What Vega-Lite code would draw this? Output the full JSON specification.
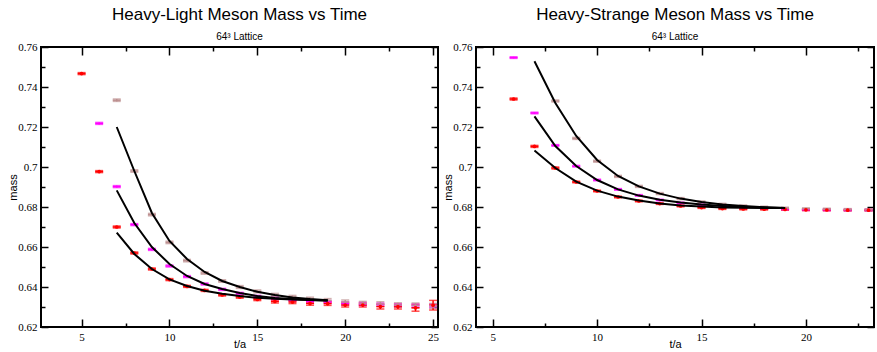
{
  "$schema": "https://vega.github.io/schema/vega-lite/v6.json",
  "padding": {"left": 6, "top": 5, "right": 0, "bottom": 0},
  "background": "white",
  "datasets": {
    "hl_points": [
      {"t": 5, "series": "S1", "m": 0.7467, "err": 0.0005},
      {"t": 6, "series": "S1", "m": 0.6977, "err": 0.0005},
      {"t": 7, "series": "S1", "m": 0.6700, "err": 0.0005},
      {"t": 8, "series": "S1", "m": 0.6570, "err": 0.0005},
      {"t": 9, "series": "S1", "m": 0.6490, "err": 0.0005},
      {"t": 10, "series": "S1", "m": 0.6437, "err": 0.0005},
      {"t": 11, "series": "S1", "m": 0.6403, "err": 0.0005},
      {"t": 12, "series": "S1", "m": 0.6383, "err": 0.0005},
      {"t": 13, "series": "S1", "m": 0.6360, "err": 0.0005},
      {"t": 14, "series": "S1", "m": 0.6350, "err": 0.0006},
      {"t": 15, "series": "S1", "m": 0.6338, "err": 0.0006},
      {"t": 16, "series": "S1", "m": 0.6328, "err": 0.0008},
      {"t": 17, "series": "S1", "m": 0.6325, "err": 0.0008},
      {"t": 18, "series": "S1", "m": 0.6318, "err": 0.0009},
      {"t": 19, "series": "S1", "m": 0.6317, "err": 0.0009},
      {"t": 20, "series": "S1", "m": 0.6310, "err": 0.0010},
      {"t": 21, "series": "S1", "m": 0.6310, "err": 0.0010},
      {"t": 22, "series": "S1", "m": 0.6302, "err": 0.0012},
      {"t": 23, "series": "S1", "m": 0.6302, "err": 0.0012},
      {"t": 24, "series": "S1", "m": 0.6296, "err": 0.0017},
      {"t": 25, "series": "S1", "m": 0.6309, "err": 0.0024},
      {"t": 6, "series": "S2", "m": 0.7218, "err": 0.0005},
      {"t": 7, "series": "S2", "m": 0.6902, "err": 0.0005},
      {"t": 8, "series": "S2", "m": 0.6712, "err": 0.0005},
      {"t": 9, "series": "S2", "m": 0.6588, "err": 0.0005},
      {"t": 10, "series": "S2", "m": 0.6505, "err": 0.0005},
      {"t": 11, "series": "S2", "m": 0.6452, "err": 0.0005},
      {"t": 12, "series": "S2", "m": 0.6415, "err": 0.0005},
      {"t": 13, "series": "S2", "m": 0.6388, "err": 0.0005},
      {"t": 14, "series": "S2", "m": 0.6368, "err": 0.0005},
      {"t": 15, "series": "S2", "m": 0.6352, "err": 0.0006},
      {"t": 16, "series": "S2", "m": 0.6342, "err": 0.0006},
      {"t": 17, "series": "S2", "m": 0.6335, "err": 0.0006},
      {"t": 18, "series": "S2", "m": 0.6328, "err": 0.0007},
      {"t": 19, "series": "S2", "m": 0.6325, "err": 0.0007},
      {"t": 20, "series": "S2", "m": 0.6318, "err": 0.0008},
      {"t": 21, "series": "S2", "m": 0.6315, "err": 0.0008},
      {"t": 22, "series": "S2", "m": 0.6312, "err": 0.0008},
      {"t": 23, "series": "S2", "m": 0.6308, "err": 0.0008},
      {"t": 24, "series": "S2", "m": 0.6307, "err": 0.0008},
      {"t": 25, "series": "S2", "m": 0.6306, "err": 0.0009},
      {"t": 7, "series": "S3", "m": 0.7334, "err": 0.0006},
      {"t": 8, "series": "S3", "m": 0.6980, "err": 0.0006},
      {"t": 9, "series": "S3", "m": 0.6762, "err": 0.0006},
      {"t": 10, "series": "S3", "m": 0.6623, "err": 0.0006},
      {"t": 11, "series": "S3", "m": 0.6532, "err": 0.0006},
      {"t": 12, "series": "S3", "m": 0.6470, "err": 0.0006},
      {"t": 13, "series": "S3", "m": 0.6430, "err": 0.0006},
      {"t": 14, "series": "S3", "m": 0.6400, "err": 0.0007},
      {"t": 15, "series": "S3", "m": 0.6378, "err": 0.0007},
      {"t": 16, "series": "S3", "m": 0.6360, "err": 0.0008},
      {"t": 17, "series": "S3", "m": 0.6350, "err": 0.0008},
      {"t": 18, "series": "S3", "m": 0.6340, "err": 0.0009},
      {"t": 19, "series": "S3", "m": 0.6333, "err": 0.0009},
      {"t": 20, "series": "S3", "m": 0.6325, "err": 0.0010},
      {"t": 21, "series": "S3", "m": 0.6318, "err": 0.0010},
      {"t": 22, "series": "S3", "m": 0.6315, "err": 0.0011},
      {"t": 23, "series": "S3", "m": 0.6310, "err": 0.0011},
      {"t": 24, "series": "S3", "m": 0.6308, "err": 0.0012},
      {"t": 25, "series": "S3", "m": 0.6306, "err": 0.0012}
    ],
    "hl_fits": [
      {"t": 7, "series": "S1", "m": 0.6672}, {"t": 8, "series": "S1", "m": 0.6565}, {"t": 9, "series": "S1", "m": 0.6490},
      {"t": 10, "series": "S1", "m": 0.6438}, {"t": 11, "series": "S1", "m": 0.6405}, {"t": 12, "series": "S1", "m": 0.6381},
      {"t": 13, "series": "S1", "m": 0.6366}, {"t": 14, "series": "S1", "m": 0.6355}, {"t": 15, "series": "S1", "m": 0.6346},
      {"t": 16, "series": "S1", "m": 0.6341}, {"t": 17, "series": "S1", "m": 0.6337}, {"t": 18, "series": "S1", "m": 0.6335},
      {"t": 19, "series": "S1", "m": 0.6333},
      {"t": 7, "series": "S2", "m": 0.6883}, {"t": 8, "series": "S2", "m": 0.6720}, {"t": 9, "series": "S2", "m": 0.6600},
      {"t": 10, "series": "S2", "m": 0.6515}, {"t": 11, "series": "S2", "m": 0.6455}, {"t": 12, "series": "S2", "m": 0.6415},
      {"t": 13, "series": "S2", "m": 0.6390}, {"t": 14, "series": "S2", "m": 0.6370}, {"t": 15, "series": "S2", "m": 0.6355},
      {"t": 16, "series": "S2", "m": 0.6345}, {"t": 17, "series": "S2", "m": 0.6340}, {"t": 18, "series": "S2", "m": 0.6335},
      {"t": 19, "series": "S2", "m": 0.6333},
      {"t": 7, "series": "S3", "m": 0.7200}, {"t": 8, "series": "S3", "m": 0.6980}, {"t": 9, "series": "S3", "m": 0.6770},
      {"t": 10, "series": "S3", "m": 0.6630}, {"t": 11, "series": "S3", "m": 0.6540}, {"t": 12, "series": "S3", "m": 0.6475},
      {"t": 13, "series": "S3", "m": 0.6430}, {"t": 14, "series": "S3", "m": 0.6400}, {"t": 15, "series": "S3", "m": 0.6376},
      {"t": 16, "series": "S3", "m": 0.6360}, {"t": 17, "series": "S3", "m": 0.6348}, {"t": 18, "series": "S3", "m": 0.6340},
      {"t": 19, "series": "S3", "m": 0.6334}
    ],
    "hs_points": [
      {"t": 6, "series": "S1", "m": 0.7340, "err": 0.0005},
      {"t": 7, "series": "S1", "m": 0.7103, "err": 0.0005},
      {"t": 8, "series": "S1", "m": 0.6995, "err": 0.0005},
      {"t": 9, "series": "S1", "m": 0.6925, "err": 0.0004},
      {"t": 10, "series": "S1", "m": 0.6880, "err": 0.0004},
      {"t": 11, "series": "S1", "m": 0.6850, "err": 0.0004},
      {"t": 12, "series": "S1", "m": 0.6830, "err": 0.0004},
      {"t": 13, "series": "S1", "m": 0.6817, "err": 0.0004},
      {"t": 14, "series": "S1", "m": 0.6805, "err": 0.0004},
      {"t": 15, "series": "S1", "m": 0.6797, "err": 0.0004},
      {"t": 16, "series": "S1", "m": 0.6792, "err": 0.0004},
      {"t": 17, "series": "S1", "m": 0.6790, "err": 0.0004},
      {"t": 18, "series": "S1", "m": 0.6789, "err": 0.0004},
      {"t": 19, "series": "S1", "m": 0.6788, "err": 0.0004},
      {"t": 20, "series": "S1", "m": 0.6786, "err": 0.0004},
      {"t": 21, "series": "S1", "m": 0.6785, "err": 0.0004},
      {"t": 22, "series": "S1", "m": 0.6784, "err": 0.0004},
      {"t": 23, "series": "S1", "m": 0.6784, "err": 0.0004},
      {"t": 6, "series": "S2", "m": 0.7547, "err": 0.0004},
      {"t": 7, "series": "S2", "m": 0.7270, "err": 0.0004},
      {"t": 8, "series": "S2", "m": 0.7108, "err": 0.0004},
      {"t": 9, "series": "S2", "m": 0.7004, "err": 0.0004},
      {"t": 10, "series": "S2", "m": 0.6935, "err": 0.0004},
      {"t": 11, "series": "S2", "m": 0.6888, "err": 0.0004},
      {"t": 12, "series": "S2", "m": 0.6858, "err": 0.0004},
      {"t": 13, "series": "S2", "m": 0.6835, "err": 0.0004},
      {"t": 14, "series": "S2", "m": 0.6820, "err": 0.0004},
      {"t": 15, "series": "S2", "m": 0.6810, "err": 0.0004},
      {"t": 16, "series": "S2", "m": 0.6803, "err": 0.0004},
      {"t": 17, "series": "S2", "m": 0.6797, "err": 0.0004},
      {"t": 18, "series": "S2", "m": 0.6793, "err": 0.0004},
      {"t": 19, "series": "S2", "m": 0.6790, "err": 0.0004},
      {"t": 20, "series": "S2", "m": 0.6787, "err": 0.0004},
      {"t": 21, "series": "S2", "m": 0.6786, "err": 0.0004},
      {"t": 22, "series": "S2", "m": 0.6785, "err": 0.0004},
      {"t": 23, "series": "S2", "m": 0.6785, "err": 0.0004},
      {"t": 8, "series": "S3", "m": 0.7330, "err": 0.0005},
      {"t": 9, "series": "S3", "m": 0.7143, "err": 0.0005},
      {"t": 10, "series": "S3", "m": 0.7029, "err": 0.0005},
      {"t": 11, "series": "S3", "m": 0.6953, "err": 0.0005},
      {"t": 12, "series": "S3", "m": 0.6903, "err": 0.0005},
      {"t": 13, "series": "S3", "m": 0.6867, "err": 0.0005},
      {"t": 14, "series": "S3", "m": 0.6842, "err": 0.0005},
      {"t": 15, "series": "S3", "m": 0.6825, "err": 0.0005},
      {"t": 16, "series": "S3", "m": 0.6813, "err": 0.0005},
      {"t": 17, "series": "S3", "m": 0.6805, "err": 0.0005},
      {"t": 18, "series": "S3", "m": 0.6799, "err": 0.0005},
      {"t": 19, "series": "S3", "m": 0.6794, "err": 0.0005},
      {"t": 20, "series": "S3", "m": 0.6791, "err": 0.0005},
      {"t": 21, "series": "S3", "m": 0.6789, "err": 0.0005},
      {"t": 22, "series": "S3", "m": 0.6787, "err": 0.0005},
      {"t": 23, "series": "S3", "m": 0.6786, "err": 0.0005}
    ],
    "hs_fits": [
      {"t": 7, "series": "S1", "m": 0.7082}, {"t": 8, "series": "S1", "m": 0.6995}, {"t": 9, "series": "S1", "m": 0.6927},
      {"t": 10, "series": "S1", "m": 0.6882}, {"t": 11, "series": "S1", "m": 0.6852}, {"t": 12, "series": "S1", "m": 0.6833},
      {"t": 13, "series": "S1", "m": 0.6818}, {"t": 14, "series": "S1", "m": 0.6808}, {"t": 15, "series": "S1", "m": 0.6802},
      {"t": 16, "series": "S1", "m": 0.6798}, {"t": 17, "series": "S1", "m": 0.6796}, {"t": 18, "series": "S1", "m": 0.6795},
      {"t": 19, "series": "S1", "m": 0.6795},
      {"t": 7, "series": "S2", "m": 0.7253}, {"t": 8, "series": "S2", "m": 0.7105}, {"t": 9, "series": "S2", "m": 0.7005},
      {"t": 10, "series": "S2", "m": 0.6935}, {"t": 11, "series": "S2", "m": 0.6888}, {"t": 12, "series": "S2", "m": 0.6857},
      {"t": 13, "series": "S2", "m": 0.6836}, {"t": 14, "series": "S2", "m": 0.6822}, {"t": 15, "series": "S2", "m": 0.6812},
      {"t": 16, "series": "S2", "m": 0.6805}, {"t": 17, "series": "S2", "m": 0.6800}, {"t": 18, "series": "S2", "m": 0.6797},
      {"t": 19, "series": "S2", "m": 0.6795},
      {"t": 7, "series": "S3", "m": 0.7529}, {"t": 8, "series": "S3", "m": 0.7320}, {"t": 9, "series": "S3", "m": 0.7155},
      {"t": 10, "series": "S3", "m": 0.7035}, {"t": 11, "series": "S3", "m": 0.6955}, {"t": 12, "series": "S3", "m": 0.6903},
      {"t": 13, "series": "S3", "m": 0.6867}, {"t": 14, "series": "S3", "m": 0.6842}, {"t": 15, "series": "S3", "m": 0.6825},
      {"t": 16, "series": "S3", "m": 0.6813}, {"t": 17, "series": "S3", "m": 0.6805}, {"t": 18, "series": "S3", "m": 0.6799},
      {"t": 19, "series": "S3", "m": 0.6795}
    ]
  },
  "spacing": 38,
  "bounds": "flush",
  "hconcat": [
    {
      "width": 397,
      "height": 280,
      "title": {"text": "Heavy-Light Meson Mass vs Time", "subtitle": "64³ Lattice"},
      "layer": [
        {
          "data": {"name": "hl_points"},
          "mark": {"type": "errorbar", "ticks": {"size": 8}, "thickness": 1.5},
          "encoding": {
            "x": {"field": "t", "type": "quantitative", "scale": {"domain": [2.69, 25.28], "nice": false, "zero": false}, "axis": null},
            "y": {"field": "m", "type": "quantitative", "scale": {"domain": [0.62, 0.76], "nice": false, "zero": false}, "axis": null},
            "yError": {"field": "err"},
            "color": {"field": "series", "type": "nominal", "scale": {"domain": ["S1", "S2", "S3"], "range": ["#ff0000", "#ff00ff", "#bc8f8f"]}, "legend": null}
          }
        },
        {
          "data": {"name": "hl_points"},
          "transform": [{"filter": "datum.series === 'S1'"}],
          "mark": {"type": "tick", "orient": "horizontal", "size": 8, "thickness": 1.5, "opacity": 1},
          "encoding": {
            "x": {"field": "t", "type": "quantitative", "scale": {"domain": [2.69, 25.28], "nice": false, "zero": false},
              "axis": {"orient": "bottom", "title": "t/a", "values": [5, 10, 15, 20, 25], "grid": true, "gridDash": [8, 1000], "labelPadding": 4, "titlePadding": -4}},
            "y": {"field": "m", "type": "quantitative", "scale": {"domain": [0.62, 0.76], "nice": false, "zero": false},
              "axis": {"orient": "left", "title": "mass", "format": "~g", "values": [0.62, 0.64, 0.66, 0.68, 0.7, 0.72, 0.74, 0.76], "grid": true, "gridDash": [7, 1000], "labelPadding": 4, "titlePadding": -1}},
            "color": {"field": "series", "type": "nominal", "scale": {"domain": ["S1", "S2", "S3"], "range": ["#ff0000", "#ff00ff", "#bc8f8f"]}, "legend": null}
          }
        },
        {
          "data": {"name": "hl_points"},
          "transform": [{"filter": "datum.series !== 'S1'"}],
          "mark": {"type": "tick", "orient": "horizontal", "size": 8, "thickness": 1.5, "opacity": 1},
          "encoding": {
            "x": {"field": "t", "type": "quantitative", "scale": {"domain": [2.69, 25.28], "nice": false, "zero": false},
              "axis": {"orient": "bottom", "title": null, "labels": false, "values": [7.5, 12.5, 17.5, 22.5], "grid": true, "gridDash": [4, 1000]}},
            "y": {"field": "m", "type": "quantitative", "scale": {"domain": [0.62, 0.76], "nice": false, "zero": false},
              "axis": {"orient": "left", "title": null, "labels": false, "values": [0.63, 0.65, 0.67, 0.69, 0.71, 0.73, 0.75], "grid": true, "gridDash": [4, 1000]}},
            "color": {"field": "series", "type": "nominal", "scale": {"domain": ["S1", "S2", "S3"], "range": ["#ff0000", "#ff00ff", "#bc8f8f"]}, "legend": null}
          }
        },
        {
          "data": {"name": "hl_points"},
          "transform": [{"filter": "datum.series === 'S1'"}],
          "mark": {"type": "circle", "size": 14, "opacity": 1},
          "encoding": {
            "x": {"field": "t", "type": "quantitative", "scale": {"domain": [2.69, 25.28], "nice": false, "zero": false},
              "axis": {"orient": "top", "title": null, "labels": false, "values": [5, 10, 15, 20, 25], "grid": true, "gridDash": [8, 1000]}},
            "y": {"field": "m", "type": "quantitative", "scale": {"domain": [0.62, 0.76], "nice": false, "zero": false},
              "axis": {"orient": "right", "title": null, "labels": false, "values": [0.62, 0.64, 0.66, 0.68, 0.7, 0.72, 0.74, 0.76], "grid": true, "gridDash": [7, 1000]}},
            "color": {"field": "series", "type": "nominal", "scale": {"domain": ["S1", "S2", "S3"], "range": ["#ff0000", "#ff00ff", "#bc8f8f"]}, "legend": null}
          }
        },
        {
          "data": {"name": "hl_fits"},
          "mark": {"type": "line", "color": "black", "strokeWidth": 2},
          "encoding": {
            "x": {"field": "t", "type": "quantitative", "scale": {"domain": [2.69, 25.28], "nice": false, "zero": false},
              "axis": {"orient": "top", "title": null, "labels": false, "values": [7.5, 12.5, 17.5, 22.5], "grid": true, "gridDash": [4, 1000]}},
            "y": {"field": "m", "type": "quantitative", "scale": {"domain": [0.62, 0.76], "nice": false, "zero": false},
              "axis": {"orient": "right", "title": null, "labels": false, "values": [0.63, 0.65, 0.67, 0.69, 0.71, 0.73, 0.75], "grid": true, "gridDash": [4, 1000]}},
            "detail": {"field": "series", "type": "nominal"}
          }
        }
      ],
      "resolve": {"axis": {"x": "independent", "y": "independent"}}
    },
    {
      "width": 398,
      "height": 280,
      "title": {"text": "Heavy-Strange Meson Mass vs Time", "subtitle": "64³ Lattice"},
      "layer": [
        {
          "data": {"name": "hs_points"},
          "mark": {"type": "errorbar", "ticks": {"size": 8}, "thickness": 1.5},
          "encoding": {
            "x": {"field": "t", "type": "quantitative", "scale": {"domain": [4.2, 23.26], "nice": false, "zero": false}, "axis": null},
            "y": {"field": "m", "type": "quantitative", "scale": {"domain": [0.62, 0.76], "nice": false, "zero": false}, "axis": null},
            "yError": {"field": "err"},
            "color": {"field": "series", "type": "nominal", "scale": {"domain": ["S1", "S2", "S3"], "range": ["#ff0000", "#ff00ff", "#bc8f8f"]}, "legend": null}
          }
        },
        {
          "data": {"name": "hs_points"},
          "transform": [{"filter": "datum.series === 'S1'"}],
          "mark": {"type": "tick", "orient": "horizontal", "size": 8, "thickness": 1.5, "opacity": 1},
          "encoding": {
            "x": {"field": "t", "type": "quantitative", "scale": {"domain": [4.2, 23.26], "nice": false, "zero": false},
              "axis": {"orient": "bottom", "title": "t/a", "values": [5, 10, 15, 20], "grid": true, "gridDash": [8, 1000], "labelPadding": 4, "titlePadding": -4}},
            "y": {"field": "m", "type": "quantitative", "scale": {"domain": [0.62, 0.76], "nice": false, "zero": false},
              "axis": {"orient": "left", "title": "mass", "format": "~g", "values": [0.62, 0.64, 0.66, 0.68, 0.7, 0.72, 0.74, 0.76], "grid": true, "gridDash": [7, 1000], "labelPadding": 4, "titlePadding": -1}},
            "color": {"field": "series", "type": "nominal", "scale": {"domain": ["S1", "S2", "S3"], "range": ["#ff0000", "#ff00ff", "#bc8f8f"]}, "legend": null}
          }
        },
        {
          "data": {"name": "hs_points"},
          "transform": [{"filter": "datum.series !== 'S1'"}],
          "mark": {"type": "tick", "orient": "horizontal", "size": 8, "thickness": 1.5, "opacity": 1},
          "encoding": {
            "x": {"field": "t", "type": "quantitative", "scale": {"domain": [4.2, 23.26], "nice": false, "zero": false},
              "axis": {"orient": "bottom", "title": null, "labels": false, "values": [7.5, 12.5, 17.5, 22.5], "grid": true, "gridDash": [4, 1000]}},
            "y": {"field": "m", "type": "quantitative", "scale": {"domain": [0.62, 0.76], "nice": false, "zero": false},
              "axis": {"orient": "left", "title": null, "labels": false, "values": [0.63, 0.65, 0.67, 0.69, 0.71, 0.73, 0.75], "grid": true, "gridDash": [4, 1000]}},
            "color": {"field": "series", "type": "nominal", "scale": {"domain": ["S1", "S2", "S3"], "range": ["#ff0000", "#ff00ff", "#bc8f8f"]}, "legend": null}
          }
        },
        {
          "data": {"name": "hs_points"},
          "transform": [{"filter": "datum.series === 'S1'"}],
          "mark": {"type": "circle", "size": 14, "opacity": 1},
          "encoding": {
            "x": {"field": "t", "type": "quantitative", "scale": {"domain": [4.2, 23.26], "nice": false, "zero": false},
              "axis": {"orient": "top", "title": null, "labels": false, "values": [5, 10, 15, 20], "grid": true, "gridDash": [8, 1000]}},
            "y": {"field": "m", "type": "quantitative", "scale": {"domain": [0.62, 0.76], "nice": false, "zero": false},
              "axis": {"orient": "right", "title": null, "labels": false, "values": [0.62, 0.64, 0.66, 0.68, 0.7, 0.72, 0.74, 0.76], "grid": true, "gridDash": [7, 1000]}},
            "color": {"field": "series", "type": "nominal", "scale": {"domain": ["S1", "S2", "S3"], "range": ["#ff0000", "#ff00ff", "#bc8f8f"]}, "legend": null}
          }
        },
        {
          "data": {"name": "hs_fits"},
          "mark": {"type": "line", "color": "black", "strokeWidth": 2},
          "encoding": {
            "x": {"field": "t", "type": "quantitative", "scale": {"domain": [4.2, 23.26], "nice": false, "zero": false},
              "axis": {"orient": "top", "title": null, "labels": false, "values": [7.5, 12.5, 17.5, 22.5], "grid": true, "gridDash": [4, 1000]}},
            "y": {"field": "m", "type": "quantitative", "scale": {"domain": [0.62, 0.76], "nice": false, "zero": false},
              "axis": {"orient": "right", "title": null, "labels": false, "values": [0.63, 0.65, 0.67, 0.69, 0.71, 0.73, 0.75], "grid": true, "gridDash": [4, 1000]}},
            "detail": {"field": "series", "type": "nominal"}
          }
        }
      ],
      "resolve": {"axis": {"x": "independent", "y": "independent"}}
    }
  ],
  "config": {
    "view": {"stroke": "black", "strokeWidth": 2},
    "axis": {
      "domain": false,
      "ticks": false,
      "gridColor": "black", "gridWidth": 1.5, "gridOpacity": 1,
      "labelFont": "Liberation Serif", "labelFontSize": 11, "labelColor": "black",
      "labelFlush": false, "labelOverlap": false,
      "titleFont": "Liberation Sans", "titleFontSize": 11, "titleFontWeight": "normal", "titleColor": "black"
    },
    "title": {
      "font": "Liberation Sans", "fontSize": 17, "fontWeight": "normal", "color": "black",
      "subtitleFont": "Liberation Sans", "subtitleFontSize": 10, "subtitleColor": "black",
      "anchor": "middle", "offset": -2.3, "subtitlePadding": 8
    }
  }
}
